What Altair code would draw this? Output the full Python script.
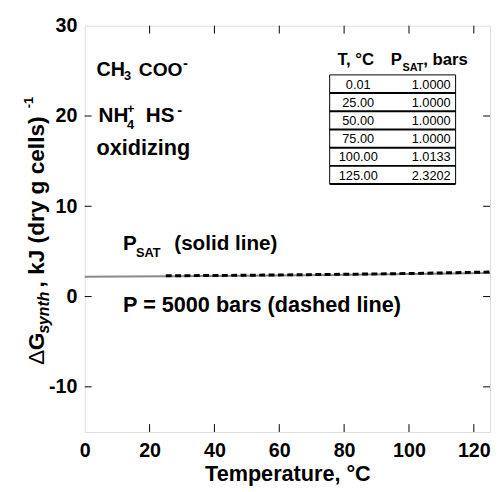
import altair as alt
import pandas as pd

# ---- data ----
T_sat = [0, 25, 50, 75, 100, 125]
G_sat = [2.2, 2.25, 2.3, 2.4, 2.5, 2.62]
T_5000 = [25, 50, 75, 100, 125]
G_5000 = [2.3, 2.36, 2.45, 2.55, 2.72]

x_ticks = [0, 20, 40, 60, 80, 100, 120]
y_ticks = [-10, 0, 10, 20, 30]

table_T = ["0.01", "25.00", "50.00", "75.00", "100.00", "125.00"]
table_P = ["1.0000", "1.0000", "1.0000", "1.0000", "1.0133", "2.3202"]

W, H = 412, 413
FONT = "Liberation Sans"

sat_df = pd.DataFrame({"T": T_sat, "G": G_sat})
p5_df = pd.DataFrame({"T": T_5000, "G": G_5000})
tab_df = pd.DataFrame({"i": list(range(len(table_T))), "T": table_T, "P": table_P})
xt_df = pd.DataFrame({"t": x_ticks[1:]})
yt_df = pd.DataFrame({"t": y_ticks[:-1]})
one = pd.DataFrame({"a": [0]})

xs = alt.Scale(domain=[0, 125], nice=False, zero=False)
ys = alt.Scale(domain=[-15, 30], nice=False, zero=False)

base_x = alt.X("T:Q", scale=xs, axis=alt.Axis(
    values=x_ticks, title="Temperature, °C", grid=False, domain=False, ticks=False,
    labelFont=FONT, labelFontSize=20, labelFontWeight="bold", labelColor="black",
    labelPadding=9, titleFont=FONT, titleFontSize=22, titleFontWeight="bold",
    titleColor="black", titlePadding=3, labelFlush=False))
base_y = alt.Y("G:Q", scale=ys, axis=alt.Axis(
    values=y_ticks, title=None, grid=False, domain=False, ticks=False,
    labelFont=FONT, labelFontSize=20, labelFontWeight="bold", labelColor="black",
    labelPadding=8, labelExpr="replace(datum.label, '\u2212', '-')", labelFlush=False))

sat_line = alt.Chart(sat_df).mark_line(color="#8a8a8a", strokeWidth=2).encode(x=base_x, y=base_y)
p5_line = alt.Chart(p5_df).mark_line(color="black", strokeWidth=3, strokeDash=[6, 3.5]).encode(
    x=alt.X("T:Q", scale=xs), y=alt.Y("G:Q", scale=ys))

# inward ticks
tick_b = alt.Chart(xt_df).mark_rule(color="black", strokeWidth=1).encode(
    x=alt.X("t:Q", scale=xs), y=alt.value(H), y2=alt.value(H - 8))
tick_t = alt.Chart(xt_df).mark_rule(color="black", strokeWidth=1).encode(
    x=alt.X("t:Q", scale=xs), y=alt.value(0), y2=alt.value(8))
tick_l = alt.Chart(yt_df).mark_rule(color="black", strokeWidth=1).encode(
    y=alt.Y("t:Q", scale=ys), x=alt.value(0), x2=alt.value(7))
tick_r = alt.Chart(yt_df).mark_rule(color="black", strokeWidth=1).encode(
    y=alt.Y("t:Q", scale=ys), x=alt.value(W), x2=alt.value(W - 7))


def txt(s, x, y, size, weight="bold", style="normal", angle=0, align="left", baseline="alphabetic"):
    return alt.Chart(one).mark_text(
        text=s, font=FONT, fontSize=size, fontWeight=weight, fontStyle=style,
        angle=angle, align=align, baseline=baseline, color="black"
    ).encode(x=alt.value(x), y=alt.value(y))


ann = [
    txt("CH", 12, 51, 20), txt("3", 40, 55, 13), txt("COO", 55, 51, 19.5), txt("-", 100, 43, 15),
    txt("NH", 14, 98, 21), txt("+", 43, 89, 13), txt("4", 43, 105, 13), txt("HS", 62, 98, 21),
    txt("-", 94, 91, 15),
    txt("oxidizing", 12, 131, 22),
    txt("P", 39, 228, 21), txt("SAT", 52, 235, 13), txt("(solid line)", 91, 228, 21),
    txt("P = 5000 bars (dashed line)", 39, 291, 22),
    # table header
    txt("T, °C", 257, 40, 17), txt("P", 311, 40, 17), txt("SAT", 323, 46, 11),
    txt(", bars", 344, 40, 17),
    # y title
    txt("Δ", -41, 345, 23, weight="normal", angle=270),
    txt("G", -41, 330, 23, angle=270),
    txt("synth", -36, 313, 16, style="italic", angle=270),
    txt(", kJ (dry g cells)", -41, 266, 23, angle=270),
    txt("-1", -53, 84, 13, angle=270),
]

# table
TOP, RH, X0, X1 = 50, 18.5, 249, 377
tab_base = alt.Chart(tab_df).transform_calculate(
    py=f"{TOP} + {RH} * (datum.i + 1) - 4.5", ly=f"{TOP} + {RH} * (datum.i + 1)")
tab_T = tab_base.mark_text(font=FONT, fontSize=13, align="center", baseline="alphabetic", color="black").encode(
    x=alt.value(278), y=alt.Y("py:Q", scale=None, axis=None), text="T:N")
tab_P = tab_base.mark_text(font=FONT, fontSize=13, align="right", baseline="alphabetic", color="black").encode(
    x=alt.value(372), y=alt.Y("py:Q", scale=None, axis=None), text="P:N")
tab_lines = tab_base.mark_rule(color="black", strokeWidth=2).encode(
    x=alt.value(X0), x2=alt.value(X1), y=alt.Y("ly:Q", scale=None, axis=None))
tab_top = alt.Chart(one).mark_rule(color="black", strokeWidth=1).encode(
    x=alt.value(X0), x2=alt.value(X1), y=alt.value(TOP))
tab_l = alt.Chart(one).mark_rule(color="black", strokeWidth=1).encode(
    x=alt.value(X0), y=alt.value(TOP), y2=alt.value(TOP + 6 * RH))
tab_r = alt.Chart(one).mark_rule(color="black", strokeWidth=1).encode(
    x=alt.value(X1), y=alt.value(TOP), y2=alt.value(TOP + 6 * RH))

chart = alt.layer(
    sat_line, p5_line, tick_b, tick_t, tick_l, tick_r,
    tab_lines, tab_top, tab_l, tab_r, tab_T, tab_P, *ann
).properties(
    width=W, height=H,
    autosize=alt.AutoSizeParams(type="none"),
    padding={"left": 78, "top": 14, "right": 2, "bottom": 57},
).configure_view(stroke="black", strokeWidth=1.5).configure(background="white")

chart.save("out.html", embed_options={"renderer": "svg", "actions": False})
